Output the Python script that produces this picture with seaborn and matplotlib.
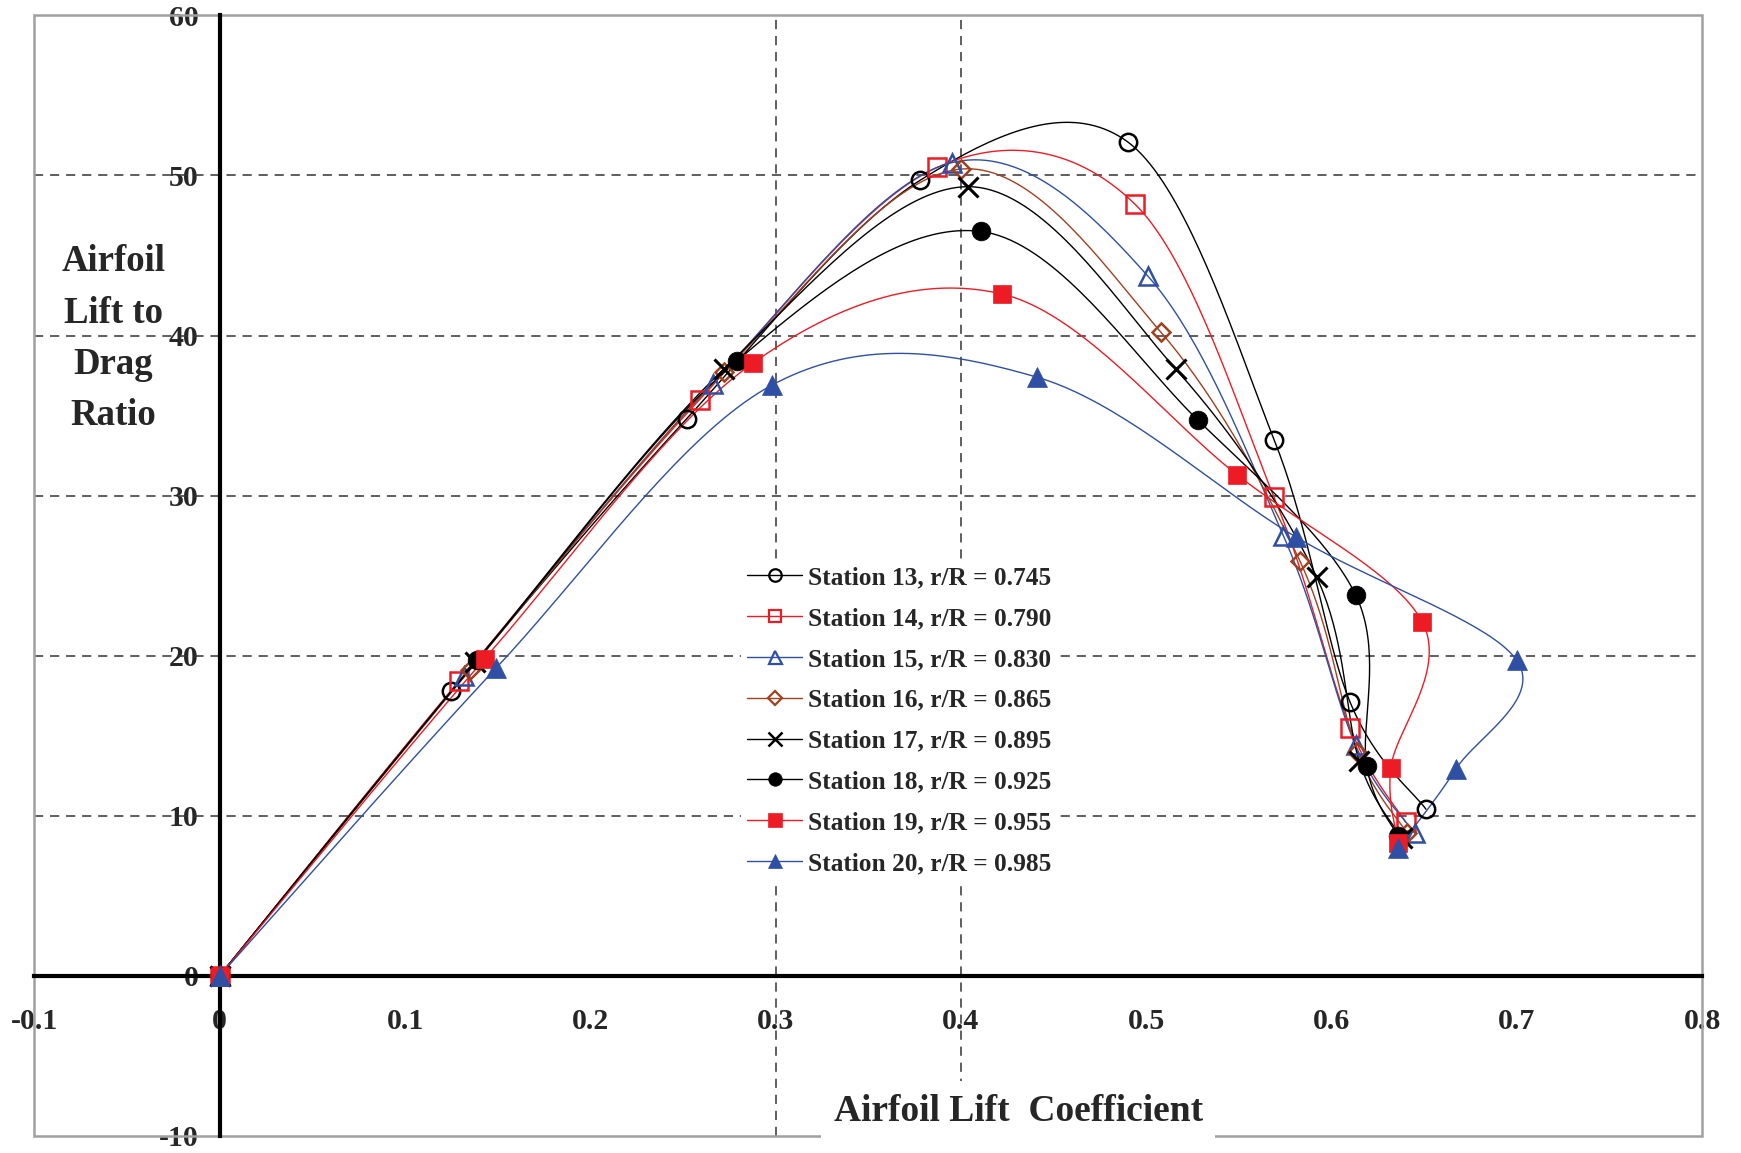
import numpy as np
import pandas as pd
import matplotlib
matplotlib.use("Agg")
import matplotlib.pyplot as plt
from matplotlib.lines import Line2D
from matplotlib.patches import Rectangle
import seaborn as sns

# ---------------------------------------------------------------- data
station_labels = [
    "Station 13, r/R = 0.745",
    "Station 14, r/R = 0.790",
    "Station 15, r/R = 0.830",
    "Station 16, r/R = 0.865",
    "Station 17, r/R = 0.895",
    "Station 18, r/R = 0.925",
    "Station 19, r/R = 0.955",
    "Station 20, r/R = 0.985",
]

cl_13 = [0, 0.125, 0.252, 0.378, 0.490, 0.569, 0.610, 0.651]
ld_13 = [0, 17.8, 34.8, 49.7, 52.1, 33.5, 17.1, 10.4]

cl_14 = [0, 0.129, 0.259, 0.387, 0.494, 0.569, 0.610, 0.640]
ld_14 = [0, 18.4, 36.0, 50.5, 48.2, 29.9, 15.5, 9.6]

cl_15 = [0, 0.132, 0.266, 0.395, 0.501, 0.574, 0.613, 0.645]
ld_15 = [0, 18.7, 37.0, 50.8, 43.7, 27.5, 14.4, 8.9]

cl_16 = [0, 0.135, 0.272, 0.400, 0.508, 0.583, 0.614, 0.641]
ld_16 = [0, 19.1, 37.7, 50.4, 40.2, 25.9, 14.0, 8.9]

cl_17 = [0, 0.138, 0.272, 0.404, 0.516, 0.592, 0.615, 0.638]
ld_17 = [0, 19.6, 37.9, 49.3, 37.9, 24.9, 13.4, 8.6]

cl_18 = [0, 0.139, 0.279, 0.411, 0.528, 0.613, 0.619, 0.636]
ld_18 = [0, 19.7, 38.4, 46.5, 34.7, 23.8, 13.1, 8.7]

cl_19 = [0, 0.143, 0.288, 0.422, 0.549, 0.649, 0.632, 0.636]
ld_19 = [0, 19.8, 38.3, 42.6, 31.3, 22.1, 13.0, 8.3]

cl_20 = [0, 0.149, 0.298, 0.441, 0.581, 0.700, 0.667, 0.636]
ld_20 = [0, 19.2, 36.9, 37.4, 27.4, 19.7, 12.9, 8.0]

x_ticks = [-0.1, 0, 0.1, 0.2, 0.3, 0.4, 0.5, 0.6, 0.7, 0.8]
x_tick_labels = ["-0.1", "0", "0.1", "0.2", "0.3", "0.4", "0.5", "0.6", "0.7", "0.8"]
y_ticks = [-10, 0, 10, 20, 30, 40, 50, 60]
y_tick_labels = ["-10", "0", "10", "20", "30", "40", "50", "60"]
h_grid_values = [10, 20, 30, 40, 50]
v_grid_values = [0.3, 0.4]

# ---------------------------------------------------------------- styles
BLACK = "#000000"
RED = "#ED1C24"
BLUE = "#2E4FA3"
BROWN = "#A0401E"

series = [
    (cl_13, ld_13, BLACK, "o", False, 12.5),
    (cl_14, ld_14, RED, "s", False, 12.5),
    (cl_15, ld_15, BLUE, "^", False, 13.0),
    (cl_16, ld_16, BROWN, "D", False, 9.5),
    (cl_17, ld_17, BLACK, "x", False, 14.0),
    (cl_18, ld_18, BLACK, "o", True, 13.5),
    (cl_19, ld_19, RED, "s", True, 13.5),
    (cl_20, ld_20, BLUE, "^", True, 14.5),
]


def smooth_path(xs, ys, n=40):
    """Spreadsheet-style smoothed line: cubic Bezier segments through the points."""
    p = np.column_stack([xs, ys]).astype(float)
    ext = np.vstack([p[0], p, p[-1]])
    t = np.linspace(0.0, 1.0, n)[1:, None]
    parts = [p[:1]]
    for i in range(len(p) - 1):
        p0, p1, p2, p3 = ext[i], ext[i + 1], ext[i + 2], ext[i + 3]
        c1 = p1 + (p2 - p0) / 6.0
        c2 = p2 - (p3 - p1) / 6.0
        seg = ((1 - t) ** 3) * p1 + 3 * ((1 - t) ** 2) * t * c1 \
            + 3 * (1 - t) * (t ** 2) * c2 + (t ** 3) * p2
        parts.append(seg)
    out = np.vstack(parts)
    return pd.DataFrame({"cl": out[:, 0], "ld": out[:, 1]})


sns.set_style("white")
plt.rcParams["font.family"] = ["Liberation Serif", "DejaVu Serif"]
plt.rcParams["font.weight"] = "bold"

fig = plt.figure(figsize=(17.41, 11.53), dpi=100)
ax = fig.add_axes([0.01976, 0.01492, 0.9579, 0.9717])
ax.set_xlim(-0.1, 0.8)
ax.set_ylim(-10, 60)

# dashed grid
grid_kw = dict(color="#333333", lw=1.1, ls=(0, (6, 4.5)), zorder=1)
for v in h_grid_values:
    ax.axhline(v, **grid_kw)
for v in v_grid_values:
    ax.axvline(v, **grid_kw)

# plot-area border
ax.add_patch(Rectangle((0, 0), 1, 1, transform=ax.transAxes, fill=False,
                       ec="#a0a0a0", lw=1.8, zorder=1, clip_on=False))

# curves and markers
for xs, ys, color, mk, filled, ms in series:
    curve = smooth_path(xs, ys)
    sns.lineplot(data=curve, x="cl", y="ld", sort=False, estimator=None,
                 color=color, lw=1.0, ax=ax, zorder=3)
for xs, ys, color, mk, filled, ms in series:
    pts = pd.DataFrame({"cl": xs, "ld": ys})
    sns.lineplot(data=pts, x="cl", y="ld", sort=False, estimator=None,
                 color=color, linestyle="none", marker=mk, ms=ms,
                 mfc=color if filled else "none", mec=color,
                 mew=2.2 if mk == "x" else (0.5 if filled else 1.8),
                 ax=ax, zorder=4)

# axes through the origin
for side in ("top", "right"):
    ax.spines[side].set_visible(False)
for side in ("left", "bottom"):
    ax.spines[side].set_position(("data", 0))
    ax.spines[side].set_linewidth(3.0)
    ax.spines[side].set_color("black")

tick_font = dict(fontsize=21.5, fontweight="bold", family="Liberation Serif")
ax.set_xticks(x_ticks)
ax.set_xticklabels(x_tick_labels, **tick_font)
ax.set_yticks(y_ticks)
ax.set_yticklabels(y_tick_labels, **tick_font)
ax.tick_params(axis="both", direction="in", length=7, width=2.2,
               color="black", labelsize=21.5)
ax.tick_params(axis="y", pad=15)
ax.tick_params(axis="x", pad=23)
for lbl in ax.get_xticklabels() + ax.get_yticklabels():
    lbl.set_fontweight("bold")
    lbl.set_bbox(dict(facecolor="white", edgecolor="none", pad=2))

ax.set_xlabel("")
ax.set_ylabel("")

ax.text(-0.0575, 39.8, "Airfoil\nLift to\nDrag\nRatio", ha="center",
        va="center", fontsize=26.5, fontweight="bold", linespacing=1.6,
        multialignment="center", zorder=5)
ax.text(0.431, -8.46, "Airfoil Lift  Coefficient", ha="center", va="center",
        fontsize=27, fontweight="bold", zorder=5,
        bbox=dict(facecolor="white", edgecolor="none", pad=9))

# legend on a white panel
handles = []
for xs, ys, color, mk, filled, ms in series:
    handles.append(Line2D([0], [0], color=color, lw=1.0, marker=mk,
                          ms=ms * 0.72, mfc=color if filled else "none",
                          mec=color, mew=1.8 if mk == "x" else (0.5 if filled else 1.6)))
leg = ax.legend(handles, station_labels, loc="upper left",
                bbox_to_anchor=(741 / 1741, 1 - 560 / 1153),
                bbox_transform=fig.transFigure, frameon=True, fancybox=False,
                facecolor="white", edgecolor="none", framealpha=1.0,
                prop=dict(family="Liberation Serif", weight="bold", size=18.3),
                handlelength=2.15, handletextpad=0.25, labelspacing=0.7,
                borderpad=0.25, borderaxespad=0)
leg.set_zorder(6)

fig.savefig("out.png", dpi=100, facecolor="white")
